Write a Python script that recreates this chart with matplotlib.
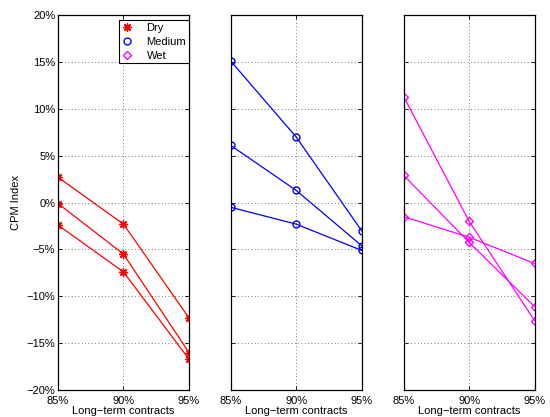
import numpy as np
import matplotlib
matplotlib.use('Agg')
import matplotlib.pyplot as plt
from matplotlib.lines import Line2D

plt.rcParams['font.family'] = ['Liberation Sans', 'DejaVu Sans']

contracts = [85, 90, 95]
tick_labels = ['85%', '90%', '95%']

# three scenarios per hydrology case (CPM index, %)
dry = [[2.7, -2.3, -12.3],
       [-0.1, -5.5, -16.0],
       [-2.4, -7.4, -16.7]]
medium = [[15.1, 7.0, -3.0],
          [6.1, 1.3, -4.6],
          [-0.5, -2.3, -5.1]]
wet = [[11.3, -2.0, -12.6],
       [2.9, -4.25, -11.1],
       [-1.5, -3.7, -6.5]]

ast = (8, 2, 0)  # matlab-like asterisk
cases = [(dry, 'red', ast, 6), (medium, 'blue', 'o', 5), (wet, 'magenta', 'D', 4.2)]
yticks = [-20, -15, -10, -5, 0, 5, 10, 15, 20]

fig = plt.figure(figsize=(5.5, 4.17), dpi=100)
lefts = [0.1055, 0.4195, 0.734]
axes = []
for i, (data, col, mk, ms) in enumerate(cases):
    ax = fig.add_axes([lefts[i], 0.0647, 0.238, 0.899])
    for row in data:
        ax.plot(contracts, row, color=col, lw=0.9, marker=mk, ms=ms,
                mfc='none', mec=col, mew=1.0)
    ax.set_xlim(85, 95)
    ax.set_ylim(-20, 20)
    ax.set_xticks(contracts)
    ax.set_xticklabels(tick_labels, fontsize=8)
    ax.set_yticks(yticks)
    if i == 0:
        ax.set_yticklabels(['%d%%' % v if v >= 0 else '\u2212%d%%' % -v for v in yticks], fontsize=8)
        ax.set_ylabel('CPM Index', fontsize=8, labelpad=4)
    else:
        ax.set_yticklabels([])
    ax.tick_params(direction='in', length=3, width=0.6, top=True, right=True, pad=2)
    ax.tick_params(axis='x', pad=4)
    ax.grid(True, linestyle=(0, (1, 3)), color='0.3', lw=0.6)
    ax.set_xlabel('Long\u2212term contracts', fontsize=8, labelpad=0)
    for s in ax.spines.values():
        s.set_linewidth(0.9)
    axes.append(ax)

handles = [Line2D([], [], ls='none', marker=mk, color=col, ms=ms,
                  mfc='none', mec=col, mew=1.0)
           for _, col, mk, ms in cases]
leg = axes[0].legend(handles, ['Dry', 'Medium', 'Wet'], loc='upper right',
                     bbox_to_anchor=(1.0, 0.987), fontsize=8, frameon=True,
                     fancybox=False, edgecolor='black', framealpha=1,
                     borderaxespad=0, handletextpad=1.4, labelspacing=0.35,
                     handlelength=0.8, borderpad=0.25)
leg.get_frame().set_linewidth(0.8)

fig.savefig('out.png', dpi=100)
